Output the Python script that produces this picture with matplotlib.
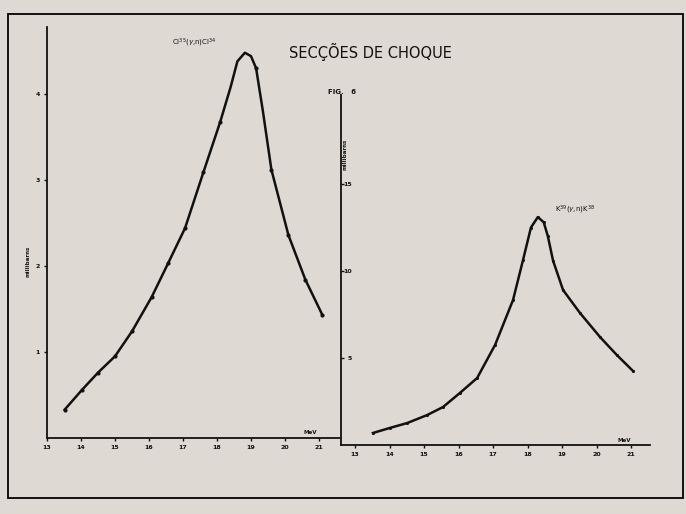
# Cross sections (scanned fig. 6) - two resonance curves side by side

import matplotlib.pyplot as plt
from matplotlib.patches import Rectangle

# left panel: Cl35 (millibarns vs MeV)
cl_mev = [13.52, 14.03, 14.5, 15.0, 15.5, 16.08, 16.56, 17.06, 17.6, 18.09,
          18.4, 18.6, 18.82, 19.0, 19.15, 19.35, 19.6, 20.1, 20.6, 21.1]
cl_mb = [0.33, 0.56, 0.76, 0.95, 1.24, 1.64, 2.03, 2.44, 3.09, 3.67,
         4.08, 4.38, 4.48, 4.44, 4.30, 3.80, 3.12, 2.36, 1.84, 1.43]

# right panel: K39
k_mev = [13.52, 14.01, 14.51, 15.09, 15.55, 16.04, 16.54, 17.06, 17.58, 17.87,
         18.1, 18.30, 18.47, 18.59, 18.74, 19.03, 19.52, 20.10, 20.59, 21.06]
k_mb = [0.69, 0.98, 1.26, 1.72, 2.18, 2.99, 3.85, 5.75, 8.33, 10.63,
        12.5, 13.10, 12.8, 12.0, 10.6, 8.91, 7.59, 6.21, 5.17, 4.25]

xticks = [13, 14, 15, 16, 17, 18, 19, 20, 21]
left_yticks = [1, 2, 3, 4]
right_yticks = [5, 10, 15]

bg = '#dedad3'
ink = '#111111'

fig = plt.figure(figsize=(6.86, 5.14), dpi=100, facecolor=bg)

# outer frame
fig.patches.append(Rectangle((8 / 686, 1 - 498 / 514), 675 / 686, 484 / 514,
                             transform=fig.transFigure, fill=False,
                             edgecolor=ink, linewidth=1.4))

def style(ax):
    ax.set_facecolor('none')
    for s in ['top', 'right']:
        ax.spines[s].set_visible(False)
    for s in ['left', 'bottom']:
        ax.spines[s].set_color(ink)
        ax.spines[s].set_linewidth(1.3)
    ax.tick_params(direction='out', length=2, width=1, colors=ink,
                   labelsize=4.5, pad=3)
    for lbl in ax.get_xticklabels() + ax.get_yticklabels():
        lbl.set_fontweight('bold')

# left axes
ax1 = fig.add_axes([47 / 686, 1 - 438 / 514, 293 / 686, 411 / 514])
ax1.plot(cl_mev, cl_mb, color=ink, linewidth=1.8, marker='o', markersize=2.0,
         markevery=[0, 1, 2, 3, 4, 5, 6, 7, 8, 9, 14, 16, 17, 18, 19])
ax1.set_xlim(13, 13 + 293 / 34)
ax1.set_ylim(0, 411 / 86)
ax1.set_xticks(xticks)
ax1.set_yticks(left_yticks)
style(ax1)
ax1.text(-0.065, 0.43, 'millibarns', transform=ax1.transAxes, rotation=90,
         fontsize=4, fontweight='bold', ha='center', va='center', color=ink)
ax1.text(20.55, 0.05, 'MeV', fontsize=4, fontweight='bold', color=ink)
ax1.text(16.68, 4.6, 'Cl$^{35}$($\\gamma$,n)Cl$^{34}$', fontsize=5,
         color=ink, ha='left', va='center')

# right axes
ax2 = fig.add_axes([341 / 686, 1 - 445 / 514, 309 / 686, 350 / 514])
ax2.plot(k_mev, k_mb, color=ink, linewidth=1.8, marker='o', markersize=1.2)
ax2.set_xlim(13 - 14 / 34.5, 13 + 295 / 34.5)
ax2.set_ylim(0, 350 / 87 * 5)
ax2.set_xticks(xticks)
ax2.set_yticks(right_yticks)
style(ax2)
ax2.tick_params(axis='y', direction='in', pad=-8)
ax2.text(0.012, 0.83, 'millibarns', transform=ax2.transAxes, rotation=90,
         fontsize=4, fontweight='bold', ha='center', va='center', color=ink)
ax2.text(20.6, 0.15, 'MeV', fontsize=4, fontweight='bold', color=ink)
ax2.text(18.8, 13.5, 'K$^{39}$($\\gamma$,n)K$^{38}$', fontsize=5,
         color=ink, ha='left', va='center')

fig.text(370 / 686, 1 - 52 / 514, 'SECÇÕES DE CHOQUE', fontsize=10.5,
         ha='center', va='center', color=ink)
fig.text(328 / 686, 1 - 92 / 514, 'FIG.   6', fontsize=5, fontweight='bold',
         ha='left', va='center', color=ink)

fig.savefig('out.png', dpi=100, facecolor=bg)
